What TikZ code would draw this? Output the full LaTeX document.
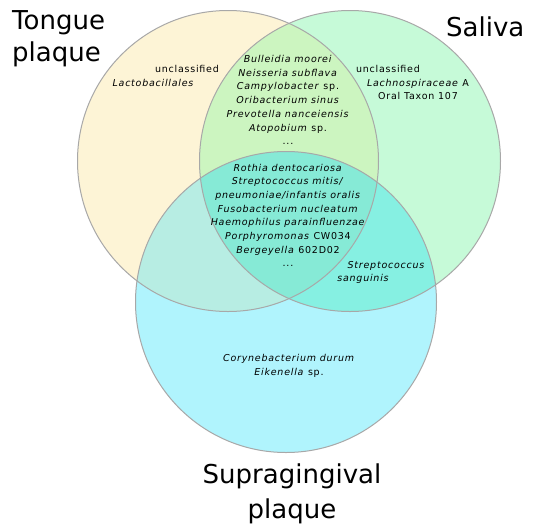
\documentclass[tikz,border=0pt]{standalone}
\usepackage{fontspec}
\setmainfont{DejaVu Sans}
\newfontfamily\spfont[LetterSpace=8]{DejaVu Sans}
\definecolor{cT}{HTML}{FDF4D6}
\definecolor{cS}{HTML}{C6FAD8}
\definecolor{cB}{HTML}{B0F4FD}
\definecolor{cTS}{HTML}{CCF5C0}
\definecolor{cTB}{HTML}{B7EDE3}
\definecolor{cSB}{HTML}{86F0E2}
\definecolor{cTSB}{HTML}{86EAD6}
\definecolor{ringgray}{HTML}{A8A8A8}
\tikzset{
  lbl/.style={font=\spfont\fontsize{9.5}{13.7}\selectfont, align=center, anchor=base, inner sep=0pt},
  ttl/.style={font=\fontsize{26}{33}\selectfont, inner sep=0pt},
  ring/.style={draw=ringgray, line width=1pt}
}
\begin{document}
\begin{tikzpicture}[x=1pt,y=-1pt]
\useasboundingbox[fill=white] (0,0) rectangle (536,523);
\coordinate (T) at (228,161);
\coordinate (S) at (350,161);
\coordinate (B) at (286,302);
\def\rr{150.5pt}
% base fills
\fill[cT] (T) circle (\rr);
\fill[cS] (S) circle (\rr);
\fill[cB] (B) circle (\rr);
% pairwise overlaps
\begin{scope}\clip (T) circle (\rr); \fill[cTS] (S) circle (\rr); \end{scope}
\begin{scope}\clip (T) circle (\rr); \fill[cTB] (B) circle (\rr); \end{scope}
\begin{scope}\clip (S) circle (\rr); \fill[cSB] (B) circle (\rr); \end{scope}
\begin{scope}\clip (T) circle (\rr); \clip (S) circle (\rr); \fill[cTSB] (B) circle (\rr); \end{scope}
% outlines
\draw[ring] (T) circle (\rr);
\draw[ring] (S) circle (\rr);
\draw[ring] (B) circle (\rr);
% titles (multi-line nodes: base anchor = last line's baseline)
\node[ttl, anchor=base west, align=left, font=\fontsize{26}{32.5}\selectfont] (tt) at (12,61.5) {Tongue\\plaque};
\node[ttl, anchor=base west] (ts) at (446,36) {Saliva};
\node[ttl, anchor=base, align=center, font=\fontsize{26}{35}\selectfont] (tb) at (292,518) {Supragingival\\plaque};
% labels
\node[lbl] (l1) at (187,72) {unclassified};
\node[lbl] (l2) at (153,86) {\itshape Lactobacillales};
\node[lbl] (r1) at (388,72) {unclassified};
\node[lbl] (r2) at (418,99.7) {\textit{Lachnospiraceae} A\\Oral Taxon 107};
\node[lbl] (ts1) at (288,144.7) {\textit{Bulleidia moorei}\\\textit{Neisseria subflava}\\\textit{Campylobacter} sp.\\\textit{Oribacterium sinus}\\\textit{Prevotella nanceiensis}\\\textit{Atopobium} sp.\\...};
\node[lbl] (all) at (288,266.9) {\textit{Rothia dentocariosa}\\\textit{Streptococcus mitis/}\\\textit{pneumoniae/infantis oralis}\\\textit{Fusobacterium nucleatum}\\\textit{Haemophilus parainfluenzae}\\\textit{Porphyromonas} CW034\\\textit{Bergeyella} 602D02\\...};
\node[lbl] (sb1) at (386,268.3) {\itshape Streptococcus};
\node[lbl] (sb2) at (363,281.7) {\itshape sanguinis};
\node[lbl] (b1) at (289,375.2) {\textit{Corynebacterium durum}\\\textit{Eikenella} sp.};
\end{tikzpicture}
\end{document}
